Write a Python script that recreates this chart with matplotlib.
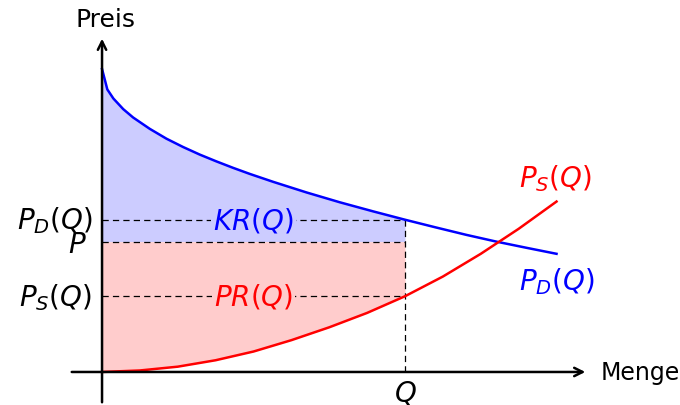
import numpy as np
import matplotlib
matplotlib.use('Agg')
from matplotlib import pyplot as plt

plt.rcParams['mathtext.fontset'] = 'dejavusans'
plt.rcParams['lines.scale_dashes'] = False

# demand curve P_D(Q)
demand_q = [0.0, 0.07, 0.15, 0.28, 0.41, 0.63, 0.85, 1.07, 1.29, 1.51, 1.73, 1.95,
            2.26, 2.70, 3.14, 3.58, 4.0, 4.4, 4.81, 5.21, 5.6, 6.0]
demand_p = [4.0, 3.73, 3.61, 3.47, 3.36, 3.21, 3.08, 2.97, 2.87, 2.78, 2.695, 2.615,
            2.51, 2.37, 2.24, 2.12, 2.01, 1.91, 1.81, 1.72, 1.64, 1.56]

# supply curve P_S(Q)
supply_q = [0.0, 0.5, 1.0, 1.5, 2.0, 2.5, 3.0, 3.5, 4.0, 4.5, 5.0, 5.5, 6.0]
supply_p = [0.0, 0.02, 0.07, 0.155, 0.27, 0.42, 0.59, 0.78, 1.0, 1.26, 1.56, 1.89, 2.25]

q_star = 4.0
p_market = 1.72
pd_at_q = 2.01
ps_at_q = 1.0

fig = plt.figure(figsize=(6.8, 4.06), dpi=100)
ax = fig.add_axes([0, 0, 1, 1])
ax.set_xlim(-1.347, 7.63)
ax.set_ylim(-0.436, 4.924)
ax.axis('off')

dq = np.array(demand_q)
dp = np.array(demand_p)
sq = np.array(supply_q)
sp = np.array(supply_p)
md = dq <= q_star
ms = sq <= q_star

# consumer and producer surplus
ax.fill_between(dq[md], p_market, dp[md], color='#ccccff', lw=0, zorder=1)
ax.fill_between(sq[ms], sp[ms], p_market, color='#ffcccc', lw=0, zorder=1)

# dashed guides
dash = dict(color='black', lw=0.9, dashes=(4.5, 3.0), zorder=2)
for yy in [pd_at_q, p_market, ps_at_q]:
    ax.plot([0, q_star], [yy, yy], **dash)
ax.plot([q_star, q_star], [0, pd_at_q], **dash)

ax.plot(dq, dp, color='blue', lw=1.8, zorder=4, solid_joinstyle='round')
ax.plot(sq, sp, color='red', lw=1.8, zorder=4, solid_joinstyle='round')

# axes with arrows
arrow = dict(arrowstyle='->', lw=1.8, color='black', mutation_scale=15, shrinkA=0, shrinkB=0)
ax.annotate('', xy=(6.38, 0), xytext=(-0.40, 0), arrowprops=arrow, zorder=5)
ax.annotate('', xy=(0, 4.40), xytext=(0, -0.40), arrowprops=arrow, zorder=5)

fs = 17
ms_ = 20
ax.text(6.58, 0, 'Menge', fontsize=fs, ha='left', va='center')
ax.text(0.04, 4.66, 'Preis', fontsize=18, ha='center', va='center')

ax.text(-0.13, pd_at_q, '$P_D(Q)$', fontsize=ms_, ha='right', va='center')
ax.text(-0.20, p_market - 0.03, '$P$', fontsize=ms_, ha='right', va='center')
ax.text(-0.13, ps_at_q, '$P_S(Q)$', fontsize=ms_, ha='right', va='center')
ax.text(q_star, -0.27, '$Q$', fontsize=ms_, ha='center', va='center')

ax.text(2.0, pd_at_q, '$KR(Q)$', fontsize=ms_, color='blue', ha='center', va='center', zorder=3,
        bbox=dict(facecolor='#ccccff', edgecolor='none', pad=1.5))
ax.text(2.0, ps_at_q, '$PR(Q)$', fontsize=ms_, color='red', ha='center', va='center', zorder=3,
        bbox=dict(facecolor='#ffcccc', edgecolor='none', pad=1.5))

ax.text(5.99, 2.57, '$P_S(Q)$', fontsize=ms_, color='red', ha='center', va='center')
ax.text(6.0, 1.20, '$P_D(Q)$', fontsize=ms_, color='blue', ha='center', va='center')

fig.savefig('out.png', dpi=100)
